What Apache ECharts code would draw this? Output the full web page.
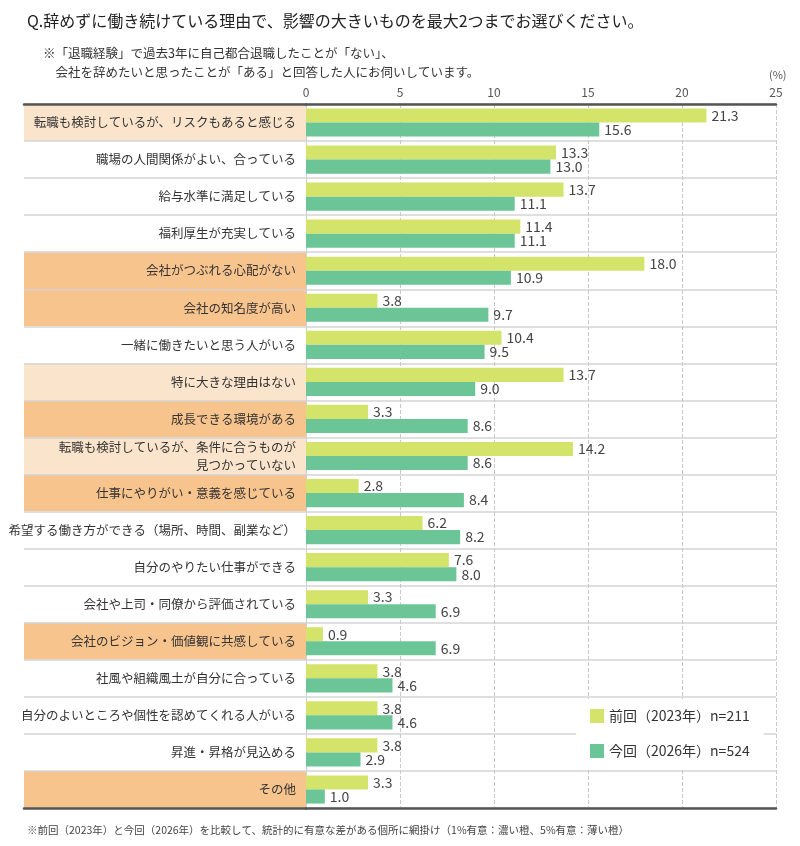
<!DOCTYPE html>
<html>
<head>
<meta charset="utf-8">
<script src="https://cdn.jsdelivr.net/npm/echarts@6/dist/echarts.min.js"></script>
<style>
  html, body { margin: 0; padding: 0; background: #fff; }
  #main { width: 800px; height: 846px; }
</style>
</head>
<body>
<div id="main"></div>
<script>
const categories = [
  '転職も検討しているが、リスクもあると感じる',
  '職場の人間関係がよい、合っている',
  '給与水準に満足している',
  '福利厚生が充実している',
  '会社がつぶれる心配がない',
  '会社の知名度が高い',
  '一緒に働きたいと思う人がいる',
  '特に大きな理由はない',
  '成長できる環境がある',
  '転職も検討しているが、条件に合うものが\n見つかっていない',
  '仕事にやりがい・意義を感じている',
  '希望する働き方ができる（場所、時間、副業など）',
  '自分のやりたい仕事ができる',
  '会社や上司・同僚から評価されている',
  '会社のビジョン・価値観に共感している',
  '社風や組織風土が自分に合っている',
  '自分のよいところや個性を認めてくれる人がいる',
  '昇進・昇格が見込める',
  'その他'
]
const prev2023 = [21.3, 13.3, 13.7, 11.4, 18.0, 3.8, 10.4, 13.7, 3.3, 14.2, 2.8, 6.2, 7.6, 3.3, 0.9, 3.8, 3.8, 3.8, 3.3]
const curr2026 = [15.6, 13.0, 11.1, 11.1, 10.9, 9.7, 9.5, 9.0, 8.6, 8.6, 8.4, 8.2, 8.0, 6.9, 6.9, 4.6, 4.6, 2.9, 1.0]
// 0 = no difference, 1 = 5% significant (light), 2 = 1% significant (dark)
const significance = [1, 0, 0, 0, 2, 2, 0, 1, 2, 1, 2, 0, 0, 0, 2, 0, 0, 0, 2]
const xTicks = [0, 25, 5]
const seriesNames = ['前回（2023年）n=211', '今回（2026年）n=524']

const font = '"Noto Sans CJK JP", "Noto Sans", sans-serif'
const shadeColors = ['#ffffff', '#fbe4cc', '#f8c48e']

let chart = echarts.init(document.getElementById('main'))

const baseLine = { lineStyle: { color: '#555', width: 2.5 } }

let option = {
  textStyle: { fontFamily: font },
  animation: false,
  title: [
    {
      text: 'Q.辞めずに働き続けている理由で、影響の大きいものを最大2つまでお選びください。',
      left: 22, top: 8,
      textStyle: { fontSize: 16, fontWeight: 'normal', color: '#222', fontFamily: font },
    },
    {
      text: '※「退職経験」で過去3年に自己都合退職したことが「ない」、\n　会社を辞めたいと思ったことが「ある」と回答した人にお伺いしています。',
      left: 38, top: 39,
      textStyle: { fontSize: 12.5, fontWeight: 'normal', color: '#333', lineHeight: 19, fontFamily: font },
    },
    {
      text: '(%)',
      left: 764, top: 64,
      textStyle: { fontSize: 11, fontWeight: 'normal', color: '#555', fontFamily: font },
    },
    {
      text: '※前回（2023年）と今回（2026年）を比較して、統計的に有意な差がある個所に網掛け（1%有意：濃い橙、5%有意：薄い橙）',
      left: 22, top: 820,
      textStyle: { fontSize: 10.5, fontWeight: 'normal', color: '#444', fontFamily: font },
    },
  ],
  legend: {
    data: seriesNames,
    orient: 'vertical',
    left: 576, top: 699,
    itemWidth: 14, itemHeight: 14, itemGap: 21,
    icon: 'rect',
    backgroundColor: '#fff',
    padding: [10, 14],
    textStyle: { fontSize: 14, color: '#333', fontFamily: font },
  },
  grid: [
    { left: 306, right: 24, top: 104, bottom: 38, outerBoundsMode: 'none' },
    { left: 24, width: 282, top: 104, bottom: 38, outerBoundsMode: 'none' },
  ],
  xAxis: [
    {
      type: 'value', gridIndex: 0, position: 'top',
      min: xTicks[0], max: xTicks[1], interval: xTicks[2],
      axisLine: { show: true, ...baseLine },
      axisTick: { show: false },
      axisLabel: { color: '#555', fontSize: 12, margin: 6 },
      splitLine: { show: true, lineStyle: { color: '#c8c8c8', type: 'dashed', width: 1 } },
    },
    {
      type: 'value', gridIndex: 0, position: 'bottom',
      min: xTicks[0], max: xTicks[1],
      axisLine: { show: true, ...baseLine },
      axisTick: { show: false }, axisLabel: { show: false }, splitLine: { show: false },
    },
    {
      type: 'value', gridIndex: 1, position: 'top', min: 0, max: 1,
      axisLine: { show: true, ...baseLine },
      axisTick: { show: false }, axisLabel: { show: false }, splitLine: { show: false },
    },
    {
      type: 'value', gridIndex: 1, position: 'bottom', min: 0, max: 1,
      axisLine: { show: true, ...baseLine },
      axisTick: { show: false }, axisLabel: { show: false }, splitLine: { show: false },
    },
  ],
  yAxis: [
    {
      type: 'category', gridIndex: 0, inverse: true,
      data: categories,
      axisLine: { show: true, lineStyle: { color: '#cfcfcf', width: 1 } },
      axisTick: { show: false },
      axisLabel: { color: '#333', fontSize: 12.5, margin: 10, lineHeight: 18, align: 'right' },
      splitLine: { show: true, lineStyle: { color: '#d4d4d4', width: 1.5 } },
    },
    {
      type: 'category', gridIndex: 1, inverse: true,
      data: categories,
      axisLine: { show: false },
      axisTick: { show: false },
      axisLabel: { show: false },
      splitLine: { show: true, lineStyle: { color: '#d4d4d4', width: 1.5 } },
      splitArea: { show: true, areaStyle: { color: significance.map(s => shadeColors[s]) } },
    },
  ],
  series: [
    {
      name: seriesNames[0], type: 'bar', xAxisIndex: 0, yAxisIndex: 0,
      data: prev2023,
      barGap: '0%', barCategoryGap: '24%',
      itemStyle: { color: '#d4e36a' },
      label: {
        show: true, position: 'right', distance: 5,
        color: '#444', fontSize: 14,
        formatter: p => p.value.toFixed(1),
      },
    },
    {
      name: seriesNames[1], type: 'bar', xAxisIndex: 0, yAxisIndex: 0,
      data: curr2026,
      barGap: '0%', barCategoryGap: '24%',
      itemStyle: { color: '#6cc596' },
      label: {
        show: true, position: 'right', distance: 5,
        color: '#444', fontSize: 14,
        formatter: p => p.value.toFixed(1),
      },
    },
  ],
}

chart.setOption(option)
</script>
</body>
</html>
